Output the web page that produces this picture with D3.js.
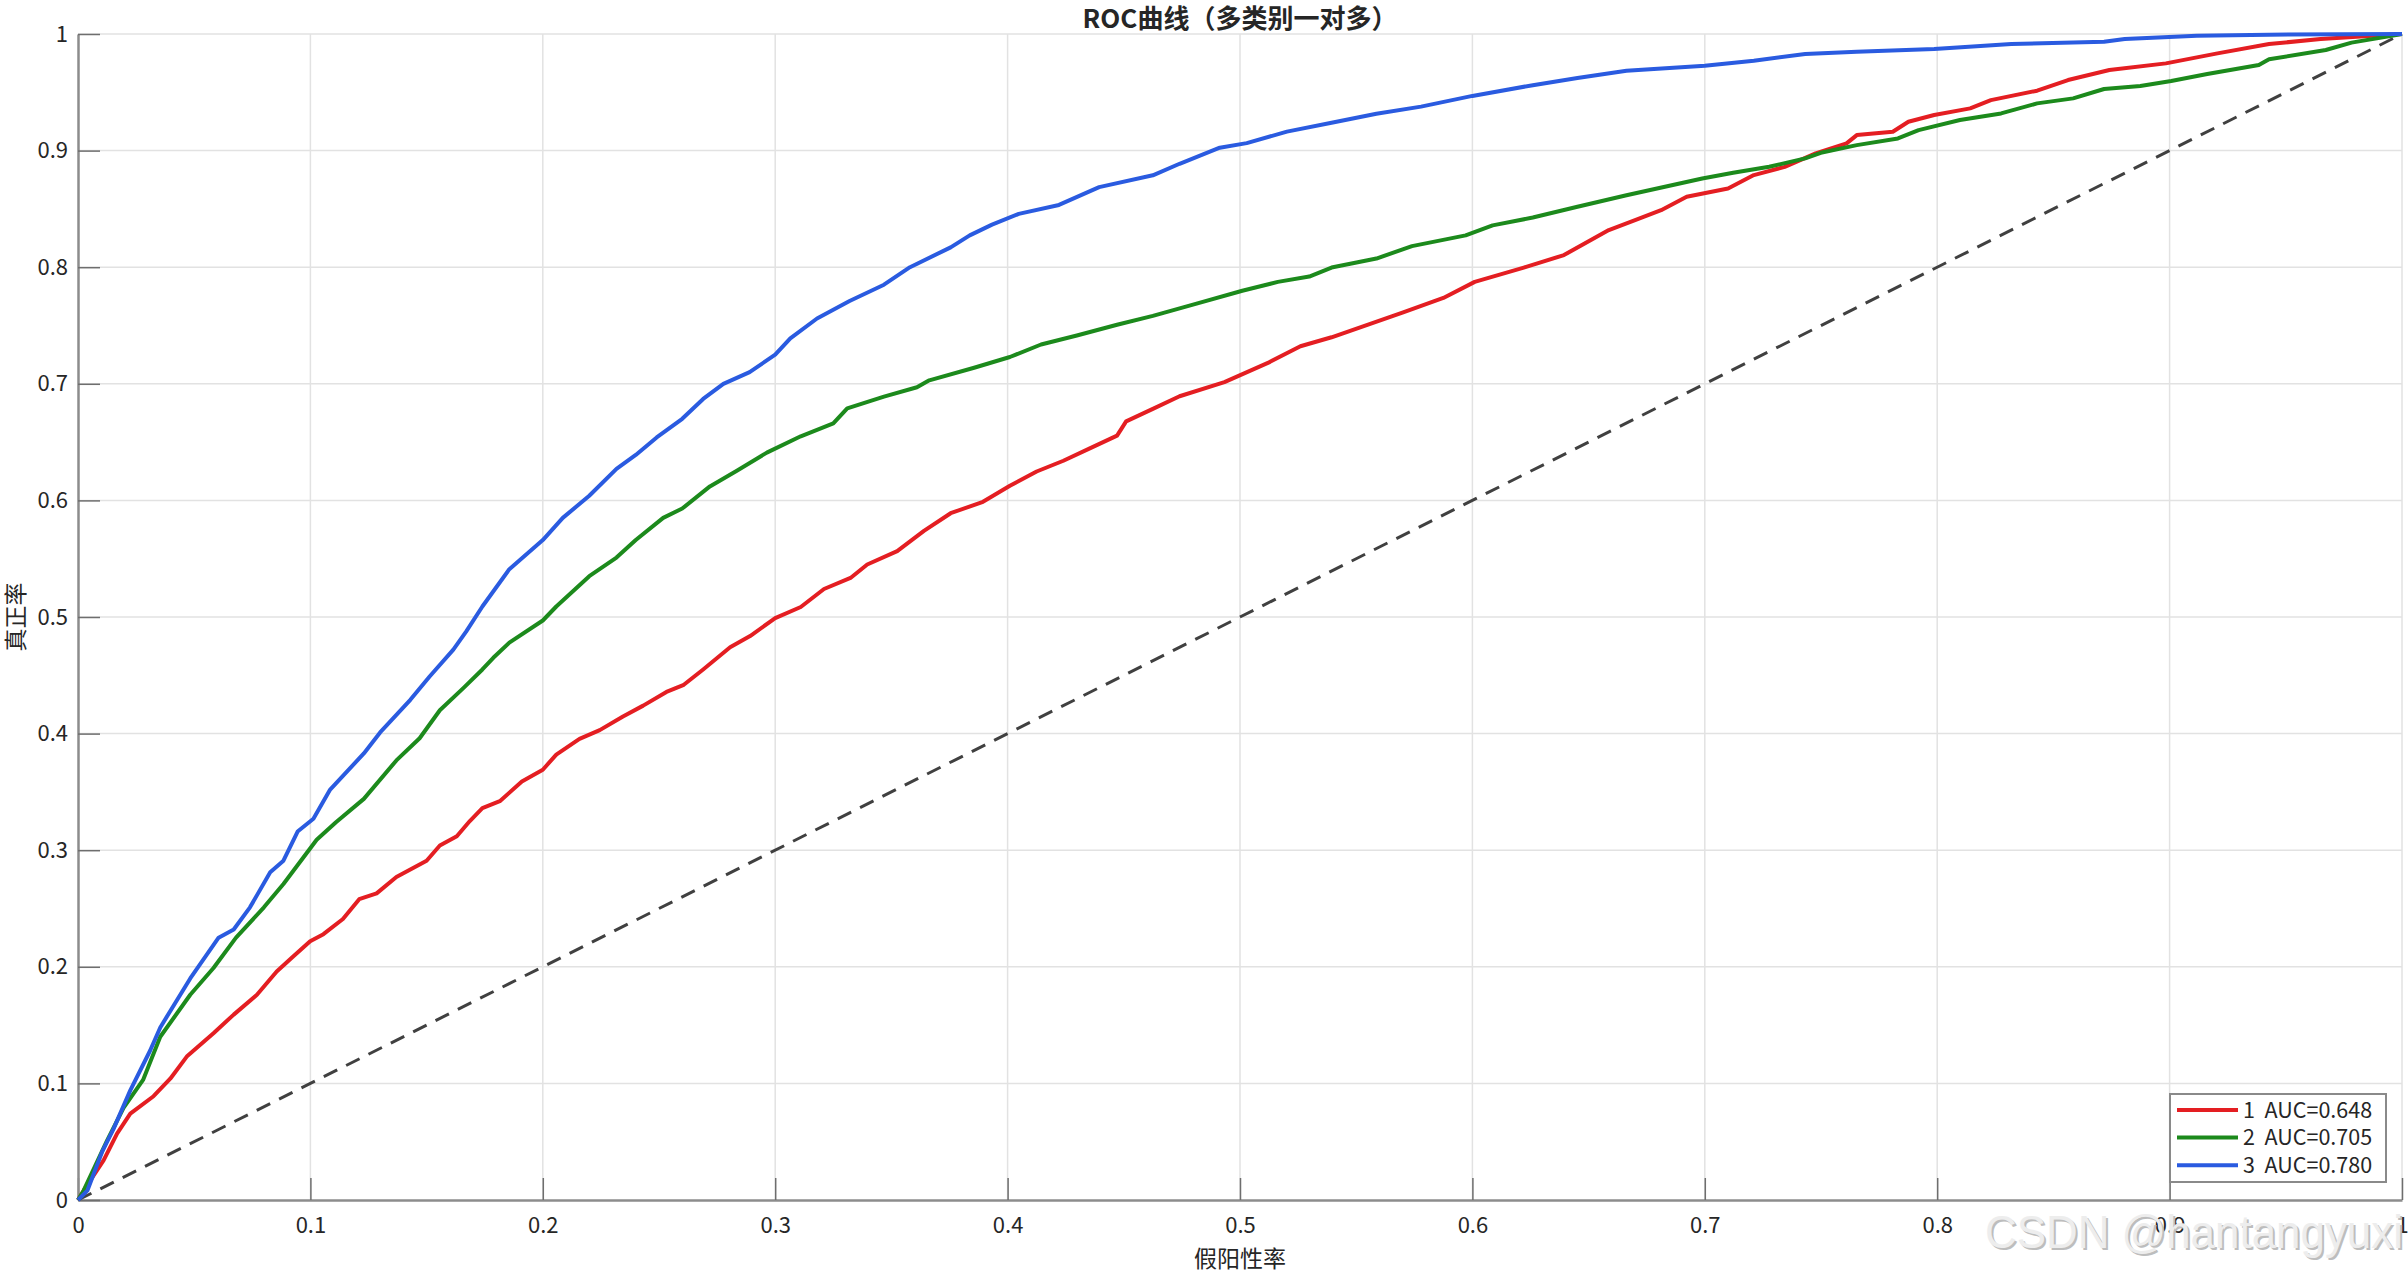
<!DOCTYPE html>
<html>
<head>
<meta charset="utf-8">
<script src="https://cdn.jsdelivr.net/npm/d3@7"></script>
<style>
body{margin:0;background:#fff;}
text{font-family:"Noto Sans CJK SC","Noto Sans",sans-serif;}
</style>
</head>
<body>
<div id="chart"></div>
<script>
//ROC curves, one-vs-rest, 3 classes
var classNames=["1","2","3"];
var aucValues=["0.648","0.705","0.780"];
var lineColors=["#e41e22","#1c8a1c","#2a5be0"];
var xTicks=[0,0.1,0.2,0.3,0.4,0.5,0.6,0.7,0.8,0.9,1];
var yTicks=[0,0.1,0.2,0.3,0.4,0.5,0.6,0.7,0.8,0.9,1];
//class 1 (red)
var fpr1=[0,0.0024,0.011,0.0168,0.0225,0.0325,0.0397,0.0468,0.0583,0.067,0.077,0.0855,0.0927,0.0999,0.1056,0.114,0.121,0.1285,0.137,0.150,0.1557,0.163,0.1686,0.174,0.1815,0.191,0.200,0.2058,0.2158,0.2245,0.2345,0.2432,0.2532,0.2604,0.269,0.2806,0.2892,0.300,0.311,0.321,0.3324,0.3396,0.3525,0.364,0.3755,0.3894,0.401,0.4125,0.424,0.4356,0.4471,0.451,0.4625,0.474,0.4933,0.5125,0.526,0.5394,0.5548,0.5702,0.5875,0.601,0.6221,0.6394,0.6587,0.670,0.6812,0.6922,0.71,0.7211,0.7344,0.7477,0.761,0.7654,0.7809,0.7876,0.7987,0.8142,0.8231,0.843,0.8563,0.8741,0.8984,0.9206,0.9428,0.965,0.9874,1];
var tpr1=[0,0.008,0.034,0.057,0.074,0.089,0.104,0.123,0.143,0.159,0.176,0.196,0.209,0.222,0.228,0.241,0.258,0.263,0.277,0.291,0.304,0.312,0.325,0.336,0.342,0.359,0.369,0.382,0.3955,0.403,0.4147,0.424,0.4357,0.4415,0.455,0.474,0.4837,0.499,0.5086,0.524,0.5335,0.545,0.5565,0.5738,0.589,0.5988,0.6126,0.6248,0.634,0.6448,0.6555,0.6678,0.6785,0.6893,0.7015,0.7184,0.7322,0.7399,0.7506,0.7613,0.7736,0.7874,0.7997,0.8104,0.8319,0.8403,0.8489,0.8604,0.8675,0.879,0.8861,0.8976,0.9062,0.9133,0.9162,0.9247,0.9305,0.9362,0.9433,0.9514,0.9605,0.9691,0.9748,0.9834,0.9914,0.9957,0.9986,1];
//class 2 (green)
var fpr2=[0,0.0024,0.0125,0.0196,0.028,0.0354,0.0483,0.0583,0.068,0.080,0.0884,0.1027,0.111,0.123,0.137,0.147,0.1557,0.1658,0.174,0.1787,0.1856,0.200,0.2058,0.220,0.2317,0.240,0.2518,0.260,0.2719,0.2835,0.2964,0.311,0.325,0.331,0.3468,0.361,0.3663,0.3856,0.401,0.4144,0.4298,0.4471,0.4625,0.4817,0.501,0.5163,0.5298,0.5394,0.5587,0.574,0.5971,0.6087,0.626,0.6452,0.6663,0.6989,0.7122,0.7277,0.7432,0.7499,0.7654,0.7831,0.792,0.8098,0.8275,0.843,0.8585,0.8718,0.8874,0.9007,0.9162,0.9384,0.9428,0.9672,0.9783,1];
var tpr2=[0,0.008,0.051,0.079,0.103,0.140,0.176,0.199,0.225,0.251,0.271,0.309,0.324,0.344,0.377,0.396,0.420,0.439,0.455,0.465,0.478,0.497,0.509,0.535,0.551,0.566,0.585,0.593,0.612,0.6255,0.641,0.655,0.666,0.679,0.689,0.697,0.703,0.7138,0.723,0.7337,0.7414,0.7506,0.7583,0.769,0.7798,0.7874,0.792,0.7997,0.8074,0.8181,0.8273,0.8359,0.8426,0.8518,0.8617,0.8761,0.881,0.8861,0.8933,0.8981,0.9047,0.9104,0.9176,0.9262,0.9319,0.9405,0.9448,0.9528,0.9554,0.9597,0.9657,0.9734,0.9783,0.9863,0.9926,1];
//class 3 (blue)
var fpr3=[0,0.004,0.0103,0.0153,0.0225,0.031,0.0354,0.0483,0.0605,0.067,0.074,0.0827,0.0884,0.0945,0.1013,0.1085,0.123,0.130,0.143,0.1513,0.1615,0.167,0.174,0.1856,0.200,0.2086,0.220,0.2317,0.240,0.249,0.260,0.269,0.2777,0.289,0.300,0.3065,0.318,0.332,0.3468,0.358,0.3755,0.3837,0.3933,0.4048,0.4221,0.4394,0.4625,0.474,0.4913,0.5029,0.5202,0.5394,0.5587,0.5779,0.600,0.626,0.6452,0.6663,0.700,0.7211,0.7432,0.7654,0.7987,0.8319,0.8718,0.8807,0.9117,0.9428,1];
var tpr3=[0,0.008,0.041,0.061,0.094,0.128,0.148,0.190,0.225,0.232,0.251,0.281,0.291,0.316,0.327,0.352,0.383,0.401,0.429,0.449,0.472,0.4875,0.509,0.541,0.566,0.585,0.604,0.627,0.639,0.654,0.670,0.687,0.700,0.710,0.725,0.739,0.756,0.771,0.785,0.800,0.817,0.8273,0.8365,0.8457,0.8534,0.8687,0.8788,0.8887,0.9025,0.9064,0.9163,0.9239,0.9316,0.9377,0.9469,0.9561,0.9623,0.9684,0.9728,0.9771,0.9828,0.9848,0.9871,0.9914,0.9934,0.9957,0.9986,0.9994,1];
var chanceLine=[0,1];

var width=2408,height=1273;
var mLeft=78,mRight=2402,mTop=34,mBottom=1200;//plot box in pixels
var svg=d3.select("#chart").append("svg")
	.attr("width",width)
	.attr("height",height);
var x=d3.scaleLinear().domain([0,1]).range([mLeft,mRight]);
var y=d3.scaleLinear().domain([0,1]).range([mBottom,mTop]);
var fmt=function(d){return String(d);};

//grid
svg.append("g").selectAll("line").data(xTicks.slice(1)).enter().append("line")
	.attr("x1",function(d){return x(d);}).attr("x2",function(d){return x(d);})
	.attr("y1",y(0)).attr("y2",y(1))
	.attr("stroke","#e2e2e2").attr("stroke-width",1.5);
svg.append("g").selectAll("line").data(yTicks.slice(1)).enter().append("line")
	.attr("y1",function(d){return y(d);}).attr("y2",function(d){return y(d);})
	.attr("x1",x(0)).attr("x2",x(1))
	.attr("stroke","#e2e2e2").attr("stroke-width",1.5);

//axes, ticks point inward like matlab
var xAxis=svg.append("g").attr("transform","translate(0,"+mBottom+")")
	.call(d3.axisBottom(x).tickValues(xTicks).tickFormat(fmt).tickSize(-22).tickSizeOuter(0).tickPadding(17));
var yAxis=svg.append("g").attr("transform","translate("+mLeft+",0)")
	.call(d3.axisLeft(y).tickValues(yTicks).tickFormat(fmt).tickSize(-22).tickSizeOuter(0).tickPadding(10));
[xAxis,yAxis].forEach(function(a){
	a.select(".domain").attr("stroke","#8c8c8c").attr("stroke-width",2.5);
	a.selectAll(".tick line").attr("stroke","#6e6e6e").attr("stroke-width",1.5);
	a.selectAll(".tick text").attr("fill","#262626").attr("font-size","22px")
		.style("font-family","'Noto Sans CJK SC','Noto Sans',sans-serif");
});

//diagonal
svg.append("path")
	.datum(chanceLine)
	.attr("d",d3.line().x(function(d){return x(d);}).y(function(d){return y(d);}))
	.attr("fill","none").attr("stroke","#404040").attr("stroke-width",3)
	.attr("stroke-dasharray","15,10");

//roc curves
var series=[[fpr1,tpr1],[fpr2,tpr2],[fpr3,tpr3]];
var line=d3.line().x(function(d){return x(d[0]);}).y(function(d){return y(d[1]);});
series.forEach(function(s,i){
	var pts=s[0].map(function(f,j){return [f,s[1][j]];});
	svg.append("path").datum(pts)
		.attr("d",line)
		.attr("fill","none")
		.attr("stroke",lineColors[i])
		.attr("stroke-width",4)
		.attr("stroke-linejoin","round");
});

//title and labels
svg.append("text").attr("x",(mLeft+mRight)/2).attr("y",28)
	.attr("text-anchor","middle").attr("font-size","26px").attr("font-weight","bold")
	.attr("fill","#262626").text("ROC曲线（多类别一对多）");
svg.append("text").attr("x",(mLeft+mRight)/2).attr("y",1267)
	.attr("text-anchor","middle").attr("font-size","23px")
	.attr("fill","#262626").text("假阳性率");
svg.append("text").attr("transform","translate(24,"+((mTop+mBottom)/2)+") rotate(-90)")
	.attr("text-anchor","middle").attr("font-size","23px")
	.attr("fill","#262626").text("真正率");

//legend
var lg=svg.append("g");
lg.append("rect").attr("x",2170).attr("y",1094).attr("width",216).attr("height",88)
	.attr("fill","#fff").attr("stroke","#8a8a8a").attr("stroke-width",2);
var rows=lg.selectAll("g.row").data(classNames).enter().append("g")
	.attr("transform",function(d,i){return "translate(2177,"+(1110+i*27.6)+")";});
rows.append("line").attr("x1",0).attr("x2",61).attr("y1",0).attr("y2",0)
	.attr("stroke",function(d,i){return lineColors[i];}).attr("stroke-width",4);
rows.append("text").attr("x",66).attr("dy","0.35em").attr("font-size","21.5px")
	.attr("fill","#262626")
	.text(function(d,i){return d+"\u00a0\u00a0AUC="+aucValues[i];});

//watermark
var wm="CSDN @hantangyuxi";
svg.append("text").attr("x",1987).attr("y",1250).attr("font-size","46px")
	.attr("textLength",418).attr("lengthAdjust","spacingAndGlyphs")
	.style("font-family","'Liberation Sans',sans-serif")
	.attr("fill","#bdbdbd").text(wm);
svg.append("text").attr("x",1985).attr("y",1248).attr("font-size","46px")
	.attr("textLength",418).attr("lengthAdjust","spacingAndGlyphs")
	.style("font-family","'Liberation Sans',sans-serif")
	.attr("fill","#ededed").text(wm);
</script>
</body>
</html>
